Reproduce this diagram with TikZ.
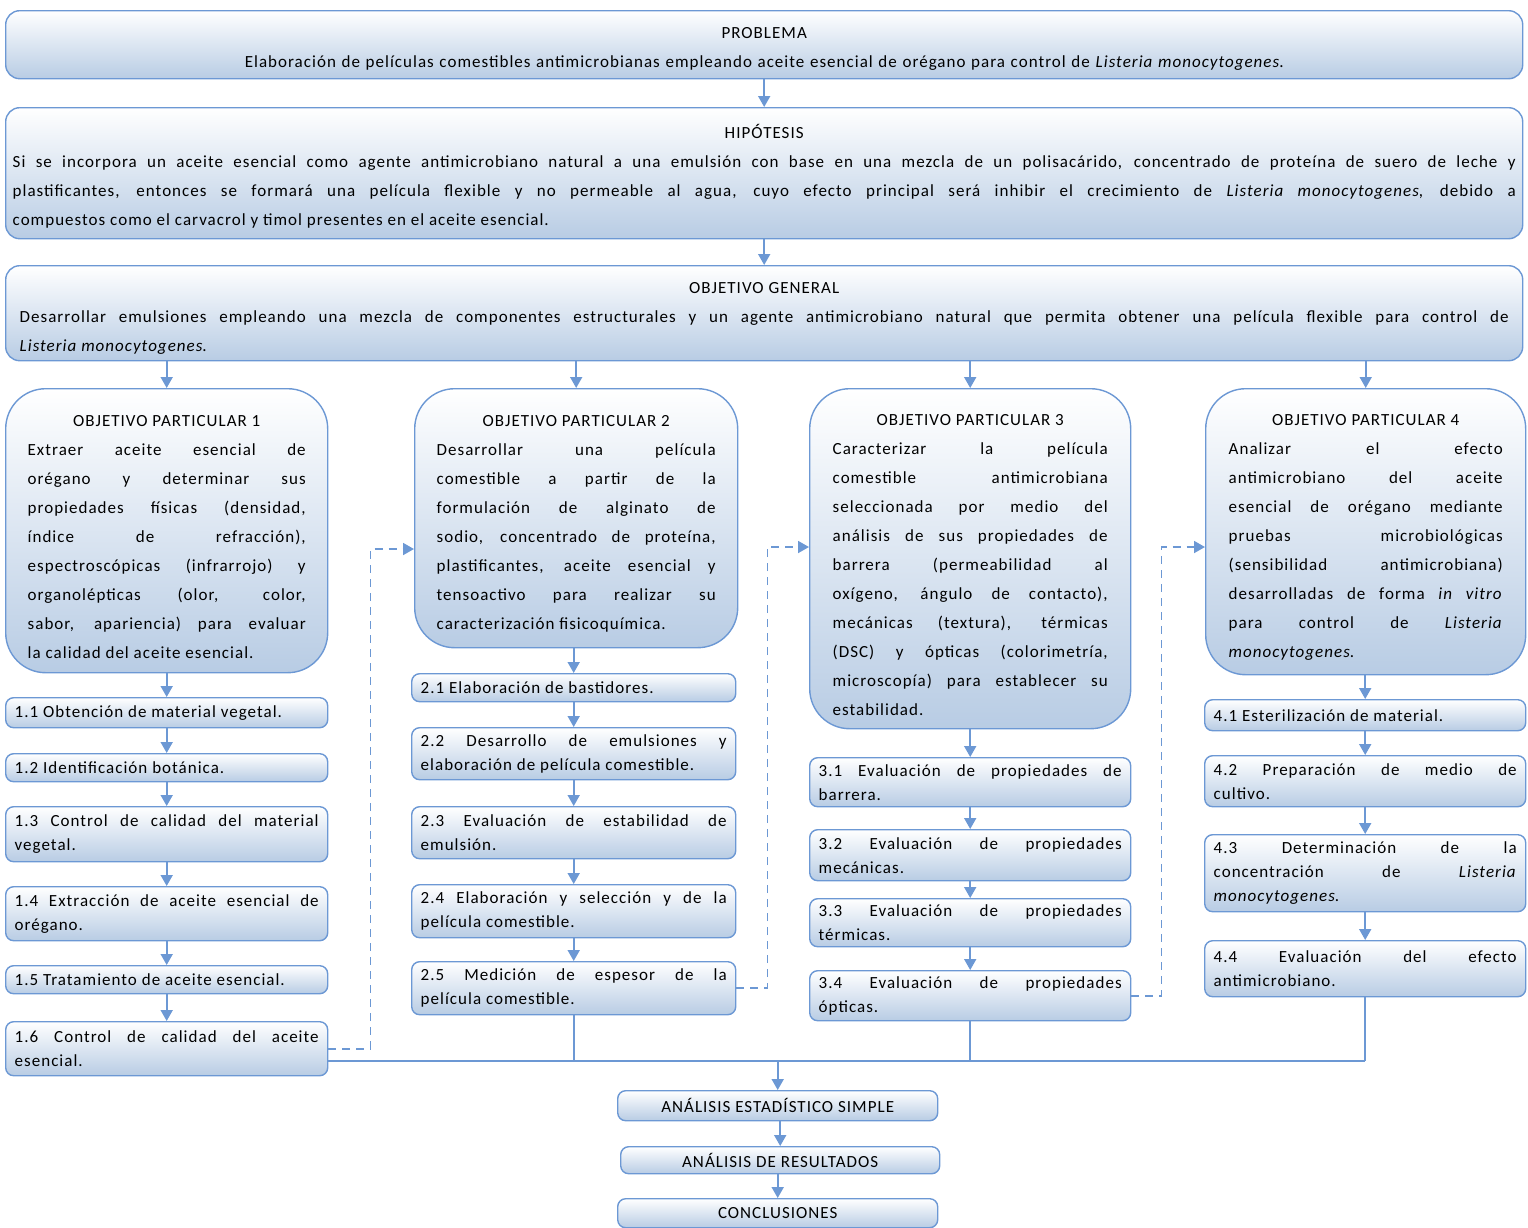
\documentclass[tikz,border=0pt]{standalone}
\usepackage{fontspec}
\setmainfont{Carlito}[LetterSpace=6]
\usetikzlibrary{arrows.meta}
\definecolor{edgeblue}{RGB}{108,152,212}
\definecolor{fillblue}{RGB}{184,204,228}
\newcommand\bigfont{\fontsize{17}{29}\selectfont\parindent=0pt}
\newcommand\smallfont{\fontsize{17}{24}\selectfont\parindent=0pt}
\newcommand\boxtitle[2][20pt]{{\centering\rule{0pt}{#1}#2\par}}
\tikzset{
  box/.style={draw=edgeblue,line width=1.4pt,top color=white,bottom color=fillblue,
    anchor=north west,align=justify,inner ysep=1pt},
  bigbox/.style={box,rounded corners=14pt,inner xsep=7pt,font=\bigfont},
  opbox/.style={box,rounded corners=40pt,inner xsep=22pt,font=\bigfont},
  stepbox/.style={box,rounded corners=8pt,inner xsep=9pt,font=\smallfont},
  endbox/.style={box,rounded corners=8pt,align=center,font=\smallfont},
  arr/.style={draw=edgeblue,line width=1.8pt,-{Triangle[length=11pt,width=12pt]}},
  link/.style={draw=edgeblue,line width=1.8pt},
  dasharr/.style={arr,dash pattern=on 8pt off 6pt}
}
\begin{document}
\begin{tikzpicture}[x=1pt,y=-1pt]
\useasboundingbox (0,0) rectangle (1528,1227);
% top boxes
\node[bigbox,align=center,minimum width=1517pt,minimum height=68pt,text width=1503pt] (prob) at (5,10)
  {\rule{0pt}{20pt}PROBLEMA\\Elaboración de películas comestibles antimicrobianas empleando aceite esencial de orégano para control de \textit{Listeria monocytogenes}.};
\node[bigbox,minimum width=1517pt,minimum height=131pt,text width=1503pt] (hip) at (5,107)
  {\boxtitle{HIPÓTESIS}Si se incorpora un aceite esencial como agente antimicrobiano natural a una emulsión con base en una mezcla de un polisacárido, concentrado de proteína de suero de leche y\linebreak plastificantes, entonces se formará una película flexible y no permeable al agua, cuyo efecto principal será inhibir el crecimiento de \textit{Listeria monocytogenes}, debido a\linebreak compuestos como el carvacrol y timol presentes en el aceite esencial.};
\node[bigbox,inner xsep=14pt,minimum width=1517pt,minimum height=95pt,text width=1489pt] (gen) at (5,265)
  {\boxtitle[22pt]{OBJETIVO GENERAL}Desarrollar emulsiones empleando una mezcla de componentes estructurales y un agente antimicrobiano natural que permita obtener una película flexible para control de\linebreak \textit{Listeria monocytogenes}.};
% particular objectives
\node[opbox,minimum width=322pt,minimum height=284pt,text width=278pt] (op1) at (5,388)
  {\boxtitle[24pt]{OBJETIVO PARTICULAR 1}Extraer aceite esencial de\linebreak orégano y determinar sus\linebreak propiedades físicas (densidad,\linebreak índice de refracción),\linebreak espectroscópicas (infrarrojo) y\linebreak organolépticas (olor, color,\linebreak sabor, apariencia) para evaluar\linebreak la calidad del aceite esencial.};
\node[opbox,minimum width=323pt,minimum height=259pt,text width=279pt] (op2) at (414,388)
  {\boxtitle[22pt]{OBJETIVO PARTICULAR 2}Desarrollar una película\linebreak comestible a partir de la\linebreak formulación de alginato de\linebreak sodio, concentrado de proteína,\linebreak plastificantes, aceite esencial y\linebreak tensoactivo para realizar su\linebreak caracterización fisicoquímica.};
\node[opbox,inner xsep=23pt,minimum width=321pt,minimum height=340pt,text width=275pt] (op3) at (809,388)
  {\boxtitle[24pt]{OBJETIVO PARTICULAR 3}Caracterizar la película\linebreak comestible antimicrobiana\linebreak seleccionada por medio del\linebreak análisis de sus propiedades de\linebreak barrera (permeabilidad al\linebreak oxígeno, ángulo de contacto),\linebreak mecánicas (textura), térmicas\linebreak (DSC) y ópticas (colorimetría,\linebreak microscopía) para establecer su\linebreak estabilidad.};
\node[opbox,inner xsep=23pt,minimum width=320pt,minimum height=286pt,text width=274pt] (op4) at (1205,388)
  {\boxtitle[22pt]{OBJETIVO PARTICULAR 4}Analizar el efecto\linebreak antimicrobiano del aceite\linebreak esencial de orégano mediante\linebreak pruebas microbiológicas\linebreak (sensibilidad antimicrobiana)\linebreak desarrolladas de forma \textit{in vitro}\linebreak para control de \textit{Listeria}\linebreak \textit{monocytogenes}.};
% column 1
\node[stepbox,minimum width=322pt,minimum height=30pt,text width=304pt] (s11) at (5,697) {1.1 Obtención de material vegetal.};
\node[stepbox,minimum width=322pt,minimum height=28pt,text width=304pt] (s12) at (5,753) {1.2 Identificación botánica.};
\node[stepbox,minimum width=322pt,minimum height=55pt,text width=304pt] (s13) at (5,806) {1.3 Control de calidad del material\linebreak vegetal.};
\node[stepbox,minimum width=322pt,minimum height=54pt,text width=304pt] (s14) at (5,886) {1.4 Extracción de aceite esencial de\linebreak orégano.};
\node[stepbox,minimum width=322pt,minimum height=28pt,text width=304pt] (s15) at (5,965) {1.5 Tratamiento de aceite esencial.};
\node[stepbox,minimum width=322pt,minimum height=54pt,text width=304pt] (s16) at (5,1021) {1.6 Control de calidad del aceite\linebreak esencial.};
% column 2
\node[stepbox,minimum width=324pt,minimum height=28pt,text width=306pt] (s21) at (411,673) {2.1 Elaboración de bastidores.};
\node[stepbox,minimum width=324pt,minimum height=52pt,text width=306pt] (s22) at (411,727) {2.2 Desarrollo de emulsiones y\linebreak elaboración de película comestible.};
\node[stepbox,minimum width=324pt,minimum height=52pt,text width=306pt] (s23) at (411,806) {2.3 Evaluación de estabilidad de\linebreak emulsión.};
\node[stepbox,minimum width=324pt,minimum height=53pt,text width=306pt] (s24) at (411,884) {2.4 Elaboración y selección y de la\linebreak película comestible.};
\node[stepbox,minimum width=324pt,minimum height=53pt,text width=306pt] (s25) at (411,961) {2.5 Medición de espesor de la\linebreak película comestible.};
% column 3
\node[stepbox,minimum width=321pt,minimum height=49pt,text width=303pt] (s31) at (809,757) {3.1 Evaluación de propiedades de\linebreak barrera.};
\node[stepbox,minimum width=321pt,minimum height=51pt,text width=303pt] (s32) at (809,829) {3.2 Evaluación de propiedades\linebreak mecánicas.};
\node[stepbox,minimum width=321pt,minimum height=48pt,text width=303pt] (s33) at (809,898) {3.3 Evaluación de propiedades\linebreak térmicas.};
\node[stepbox,minimum width=321pt,minimum height=50pt,text width=303pt] (s34) at (809,970) {3.4 Evaluación de propiedades\linebreak ópticas.};
% column 4
\node[stepbox,minimum width=321pt,minimum height=31pt,text width=303pt] (s41) at (1204,699) {4.1 Esterilización de material.};
\node[stepbox,minimum width=321pt,minimum height=51pt,text width=303pt] (s42) at (1204,755) {4.2 Preparación de medio de\linebreak cultivo.};
\node[stepbox,minimum width=321pt,minimum height=77pt,text width=303pt] (s43) at (1204,834) {4.3 Determinación de la\linebreak concentración de \textit{Listeria}\linebreak \textit{monocytogenes}.};
\node[stepbox,minimum width=321pt,minimum height=56pt,text width=303pt] (s44) at (1204,940) {4.4 Evaluación del efecto\linebreak antimicrobiano.};
% final boxes
\node[endbox,minimum width=320pt,minimum height=30pt] (est) at (617,1090) {ANÁLISIS ESTADÍSTICO SIMPLE};
\node[endbox,minimum width=319pt,minimum height=27pt] (res) at (620,1146) {ANÁLISIS DE RESULTADOS};
\node[endbox,minimum width=320pt,minimum height=29pt] (con) at (617,1198) {CONCLUSIONES};
% arrows
\draw[arr] (prob) -- (hip);
\draw[arr] (hip) -- (gen);
\foreach \o in {op1,op2,op3,op4}
  \draw[arr] (gen.south -| \o.north) -- (\o.north);
\foreach \a/\b in {op1/s11,s11/s12,s12/s13,s13/s14,s14/s15,s15/s16,
  op2/s21,s21/s22,s22/s23,s23/s24,s24/s25,
  op3/s31,s31/s32,s32/s33,s33/s34,
  op4/s41,s41/s42,s42/s43,s43/s44}
  \draw[arr] (\a.south -| \b.north) -- (\b.north);
% collecting line
\coordinate (bus) at (0,1061);
\draw[link] (s16.east |- bus) -- (s44.south |- bus);
\foreach \c in {s25,s34,s44}
  \draw[link] (\c.south) -- (\c.south |- bus);
\draw[arr] (est.north |- bus) -- (est.north);
\draw[arr] (est.south -| res.north) -- (res.north);
\draw[arr] (res.south -| con.north) -- (con.north);
% dashed links
\coordinate (d2) at (0,549);
\coordinate (d3) at (0,547);
\draw[dasharr] (s16.east) -- ++(42,0) |- (op2.west |- d2);
\draw[dasharr] (s25.east) -- ++(31,0) |- (op3.west |- d3);
\draw[dasharr] (s34.east) -- ++(30,0) |- (op4.west |- d3);
\end{tikzpicture}
\end{document}
